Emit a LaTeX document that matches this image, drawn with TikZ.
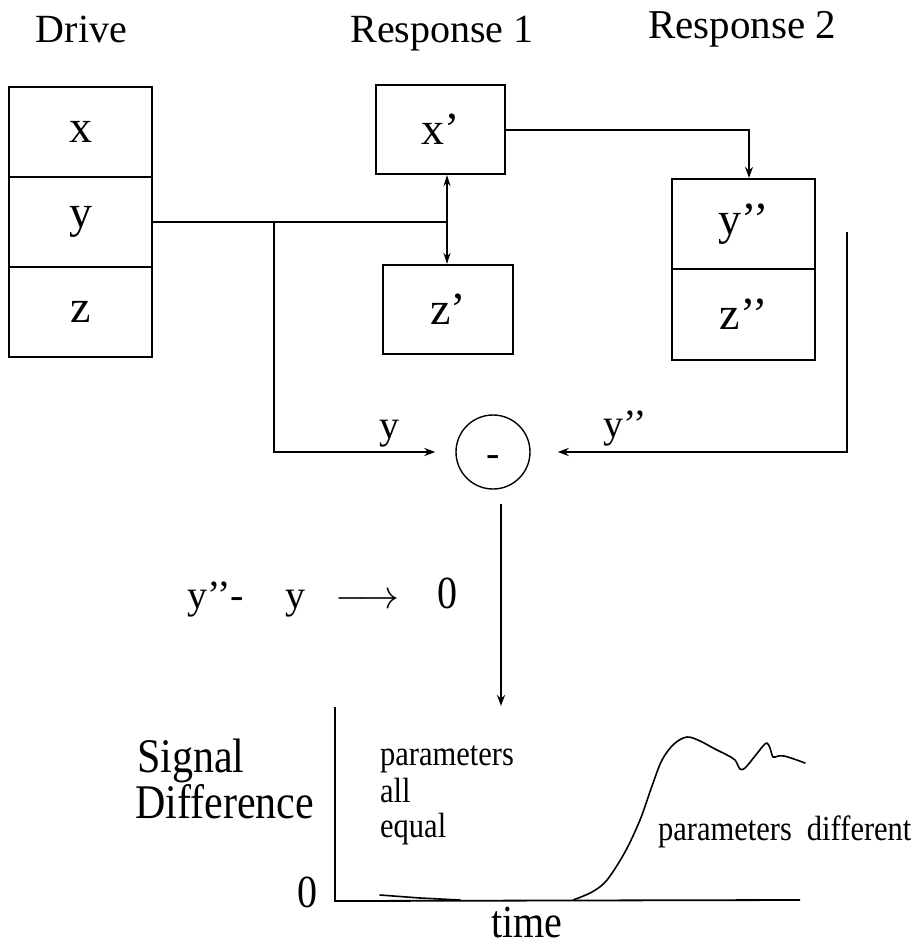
\documentclass[tikz,border=0pt]{standalone}
\usepackage{fix-cm}
\usepackage{graphicx}
\usepackage{fontspec}
\setmainfont{Liberation Serif}
\usetikzlibrary{arrows.meta}
\newcommand{\tallx}[1]{\scalebox{1}[1.15]{#1}}
\begin{document}
\begin{tikzpicture}[x=1pt,y=-1pt,
  cell/.style={draw, line width=2.2pt, inner sep=0pt, font=\fontsize{46}{52}\selectfont},
  conn/.style={line width=2pt},
  tip/.style={-{Stealth[length=11pt,width=8pt]}},
  big/.style={font=\fontsize{40}{48}\selectfont, inner sep=0pt},
  mid/.style={font=\fontsize{30.5}{36}\selectfont, inner sep=0pt},
  curve/.style={line width=1.6pt, line join=round, line cap=round},
]
\useasboundingbox (0,0) rectangle (921,951);

% titles
\node[big, anchor=base] (tdrive) at (81.5,42) {Drive};
\node[big, anchor=base] (tr1) at (442,42) {Response 1};
\node[big, anchor=base, font=\fontsize{41}{48}\selectfont] (tr2) at (742,38) {Response 2};

% drive boxes
\node[cell, minimum width=143pt, minimum height=90pt] (dx) at (80.5,132) {x};
\node[cell, minimum width=143pt, minimum height=90pt] (dy) at (80.5,222) {y};
\node[cell, minimum width=143pt, minimum height=90pt] (dz) at (80.5,312) {z};

% response 1 boxes
\node[cell, minimum width=129pt, minimum height=89pt] (xp) at (440.5,129.5) {x’};
\node[cell, minimum width=130pt, minimum height=89pt] (zp) at (448,309.5) {z’};

% response 2 boxes
\node[cell, minimum width=143pt, minimum height=90pt] (yq) at (743.5,224) {y’’};
\node[cell, minimum width=143pt, minimum height=91pt] (zq) at (743.5,314.5) {z’’};

% difference circle
\node[draw, circle, line width=1.4pt, minimum size=74pt, inner sep=0pt] (diff) at (493,452) {};
\node[big] (minus) at (493,461) {-};

% connectors
\coordinate (j1) at (447,220);
\coordinate (j0) at (274,220);
\coordinate (k1) at (749,128);
\coordinate (r1) at (847,232);
\draw[conn] (dy.east) -- (j1 |- dy.east);
\draw[conn, {Stealth[length=11pt,width=7pt]}-{Stealth[length=11pt,width=7pt]}] (j1 |- xp.south) -- (j1 |- zp.north);
\draw[conn, tip] (xp.east) -| (k1 |- yq.north);
\draw[conn, tip, shorten >=20pt] (j0 |- dy.east) |- (diff.west);
\draw[conn, tip, shorten >=27pt] (r1) |- (diff.east);

% labels on arrows
\node[big, anchor=base] (ly) at (389,438) {y};
\node[big, anchor=base] (lyq) at (625,437) {y’’};

% downward arrow
\coordinate (v1) at (501,504);
\coordinate (v2) at (501,706);
\draw[conn, tip] (v1) -- (v2);

% expression
\node[big, anchor=base west] (expr) at (187,608) {y’’-\hspace{41pt}y\hspace{30pt}$\longrightarrow$\hspace{38pt}\tallx{0}};

% plot
\coordinate (ytop) at (335,707);
\coordinate (orig) at (335,901);
\coordinate (xend) at (800,900);
\draw[line width=1.8pt] (ytop) -- (orig) -- (xend);
\draw[curve] (380,895) -- (420,898) -- (460,900);
\draw[curve] plot[smooth, tension=0.55] coordinates {
  (573,900) (592,892) (607,880) (625,852) (640,820) (652,786) (662,760)
  (674,744) (687,737) (700,741) (715,749) (727,755) (735,760) (740,769)
  (745,768) (755,756) (763,746) (767,743) (770,748) (773,757) (778,756)
  (784,756) (794,759) (805,763)};

% plot texts
\node[big, anchor=base west, font=\fontsize{42}{48}\selectfont] (tsig) at (137,772) {\tallx{Signal}};
\node[big, anchor=base west, font=\fontsize{42}{48}\selectfont] (tdiff) at (135,818) {\tallx{Difference}};
\node[big, anchor=base west] (tzero) at (297,907) {\tallx{0}};
\node[mid, anchor=base west] (tp1) at (380,765) {\tallx{parameters}};
\node[mid, anchor=base west] (tp2) at (380,802) {\tallx{all}};
\node[mid, anchor=base west] (tp3) at (380,837) {\tallx{equal}};
\node[mid, anchor=base west] (tpd) at (658,840) {\tallx{parameters\hspace*{15pt}different}};
\node[big, anchor=base] (ttime) at (527,937) {\tallx{time}};
\end{tikzpicture}
\end{document}
